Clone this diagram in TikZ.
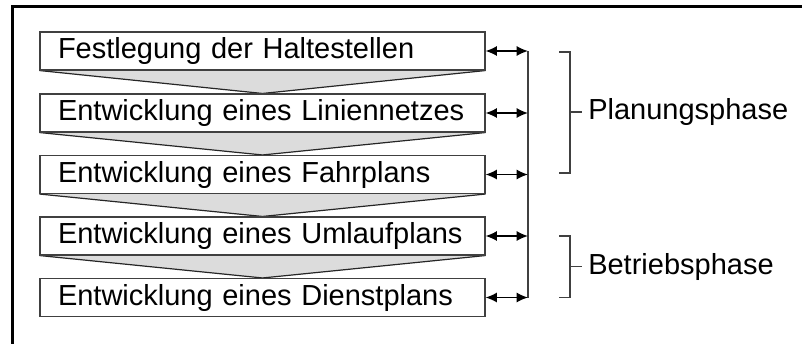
\documentclass[tikz,border=0pt]{standalone}
\usepackage{fontspec}
\setmainfont{Liberation Sans}
\usetikzlibrary{arrows.meta,backgrounds}
\definecolor{chevgray}{HTML}{DCDCDC}
\definecolor{edgegray}{HTML}{404040}
\begin{document}
\begin{tikzpicture}[x=0.75pt,y=-0.75pt,
  stepbox/.style={draw=edgegray, fill=white, line width=0.8pt, rectangle,
    minimum width=333.75pt, minimum height=28.5pt, text width=306.75pt,
    inner xsep=13.5pt, inner ysep=0pt, align=left,
    text height=15.6pt, text depth=4.35pt,
    font=\fontsize{21.75pt}{26pt}\selectfont},
  chev/.style={fill=chevgray},
  chevedge/.style={draw=black!85, line width=0.9pt},
  link/.style={draw=black, line width=1.1pt, {Latex[length=8.5pt,width=7.5pt]}-{Latex[length=8.5pt,width=7.5pt]}},
  rail/.style={draw=edgegray, line width=1.1pt},
  brace/.style={draw=edgegray, line width=1.1pt},
  phase/.style={anchor=west, inner xsep=4.5pt, inner ysep=0pt,
    text height=15.6pt, text depth=4.35pt,
    font=\fontsize{21.75pt}{26pt}\selectfont}]
\useasboundingbox (0,0) rectangle (802,343);
% frame (only left and top edges visible)
\draw[line width=2.25pt] (12.5,345) -- (12.5,6.5) -- (804,6.5);
% step boxes
\node[stepbox] (b1) at (262.5,51)    {Festlegung der Haltestellen};
\node[stepbox] (b2) at (262.5,113)   {Entwicklung eines Liniennetzes};
\node[stepbox] (b3) at (262.5,174.5) {Entwicklung eines Fahrplans};
\node[stepbox] (b4) at (262.5,236)   {Entwicklung eines Umlaufplans};
\node[stepbox] (b5) at (262.5,297.5) {Entwicklung eines Dienstplans};
% chevrons between boxes (behind the boxes)
\begin{scope}[on background layer]
\foreach \u/\l in {b1/b2,b2/b3,b3/b4,b4/b5}{
  \fill[chev] (\u.south west) -- (\l.north) -- (\u.south east) -- cycle;
  \draw[chevedge] (\u.south west) -- (\l.north) -- (\u.south east);
}
\end{scope}
% rail
\coordinate (rt) at (528,51);
\coordinate (rb) at (528,297.5);
\draw[rail] (rt) -- (rb);
\foreach \b in {b1,b2,b3,b4,b5}{
  \draw[link] (\b.east) -- (\b.east -| rt);
}
% phases
\node[phase] (p1) at (582,112) {Planungsphase};
\node[phase] (p2) at (582,266.5) {Betriebsphase};
\coordinate (p1t) at (559,52);
\coordinate (p1b) at (559,173);
\coordinate (p2t) at (559,236);
\coordinate (p2b) at (559,297.5);
\coordinate (p1m) at (570,112);
\coordinate (p2m) at (570,266.5);
\draw[brace] (p1t) -- ++(11,0) |- (p1b);
\draw[brace] (p1m) -- (p1.west);
\draw[brace] (p2t) -- ++(11,0) |- (p2b);
\draw[brace] (p2m) -- (p2.west);
\end{tikzpicture}
\end{document}
